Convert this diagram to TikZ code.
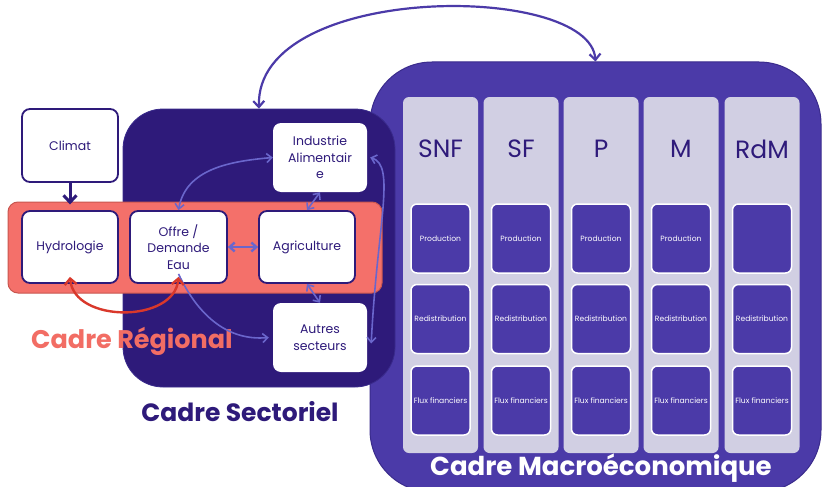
\documentclass[tikz,border=0pt]{standalone}
\usepackage{fontspec}
\setmainfont{Poppins}
\usetikzlibrary{arrows.meta}
\definecolor{secdark}{HTML}{2E1A7A}
\definecolor{macrobg}{HTML}{4B3AA8}
\definecolor{macroline}{HTML}{3A2B8C}
\definecolor{colbg}{HTML}{D1CFE3}
\definecolor{bandfill}{HTML}{F4706A}
\definecolor{bandline}{HTML}{C8564F}
\definecolor{linkblue}{HTML}{6A66CC}
\definecolor{redarrow}{HTML}{D9382B}
\definecolor{regtext}{HTML}{F26D64}
\tikzset{
  regbox/.style={fill=white, draw=secdark, line width=1.8pt, rounded corners=8pt,
    text=secdark, align=center, minimum width=96pt, minimum height=72pt,
    font=\fontsize{12.5}{16.5}\selectfont, inner sep=1pt},
  secbox/.style={fill=white, rounded corners=8pt, text=secdark, align=center,
    minimum width=94pt, minimum height=69pt, font=\fontsize{12.5}{16.5}\selectfont, inner sep=1pt},
  colbox/.style={fill=colbg, rounded corners=6pt, minimum width=75pt, minimum height=356pt, inner sep=0pt},
  cell/.style={fill=macrobg, draw=white, line width=1.5pt, rounded corners=6pt, text=white,
    minimum width=59pt, minimum height=69pt, font=\fontsize{7.6}{9}\selectfont, inner sep=0pt},
  coltitle/.style={text=secdark, font=\fontsize{25}{28}\selectfont, inner sep=0pt},
  barb/.style={line width=1.6pt, draw=linkblue, {Straight Barb[length=5pt,width=9pt]}-{Straight Barb[length=5pt,width=9pt]}},
  barbone/.style={line width=1.6pt, draw=linkblue, -{Straight Barb[length=5pt,width=9pt]}},
}
\begin{document}
\begin{tikzpicture}[x=1pt,y=-1pt]
\useasboundingbox (0,0) rectangle (822,487);
\clip (0,0) rectangle (822,487);
\fill[white] (0,0) rectangle (822,487);
% macro box
\node[fill=macrobg, draw=macroline, line width=1pt, rounded corners=62pt,
  minimum width=451pt, minimum height=430pt, inner sep=0pt] (macro) at (595.5,277) {};
% columns
\foreach \nm/\x/\t in {c1/440.5/SNF, c2/521/SF, c3/601/P, c4/681/M, c5/762/RdM}{
  \node[colbox] (\nm) at (\x,275) {};
  \node[coltitle] (\nm t) at (\x,149) {\t};
}
\foreach \nm/\x in {c1/440.5, c2/521, c3/601, c4/681}{
  \node[cell] (\nm p) at (\x,238.5) {Production};
}
\node[cell] (c5p) at (762,238.5) {};
\foreach \nm/\x in {c1/440.5, c2/521, c3/601, c4/681, c5/762}{
  \node[cell] (\nm r) at (\x,319) {Redistribution};
  \node[cell] (\nm f) at (\x,400.5) {Flux financiers};
}
\node[text=white, font=\fontsize{26}{30}\selectfont\bfseries, inner sep=0pt] (macrot) at (601,468) {Cadre Macroéconomique};
% sector box
\node[fill=secdark, draw=macroline, line width=0.8pt, rounded corners=40pt,
  minimum width=272pt, minimum height=278pt, inner sep=0pt] (sector) at (259,248) {};
% regional band
\node[fill=bandfill, draw=bandline, line width=1pt, rounded corners=10pt,
  minimum width=374pt, minimum height=91pt, inner sep=0pt] (band) at (195,247.5) {};
% nodes
\node[regbox, minimum height=73pt] (climat) at (70,145.5) {Climat};
\node[regbox] (hydro) at (70,247) {Hydrologie};
\node[regbox, minimum width=97pt] (offre) at (178.5,247) {Offre /\\Demande\\Eau};
\node[regbox] (agri) at (307,247) {Agriculture};
\node[secbox] (indus) at (320,157.5) {Industrie\\Alimentair\\e};
\node[secbox] (autres) at (320,337.5) {Autres\\secteurs};
% labels
\node[text=regtext, font=\fontsize{25.5}{30}\selectfont\bfseries, inner sep=0pt] (regt) at (132,341) {Cadre Régional};
\node[text=secdark, font=\fontsize{25}{30}\selectfont\bfseries, inner sep=0pt] (sect) at (240,412) {Cadre Sectoriel};
% arrows
\draw[line width=3pt, draw=secdark, -{Straight Barb[length=7pt,width=13pt]}]
  (climat.south) -- ([yshift=-3pt]climat.south |- band.north);
\draw[barb, line width=2.4pt] (offre.east) -- (agri.west);
\draw[barb] (offre.north) to[out=80, in=185] (indus.west);
\draw[barb] (agri.north) -- (indus.south);
\draw[barb] (agri.south) -- (autres.north);
\draw[barbone] ([yshift=10pt]offre.south) to[out=-65, in=185] ([xshift=-4pt]autres.west);
\draw[barb] ([xshift=3pt]indus.east) .. controls +(26,8) and +(6,-120) .. ([xshift=4pt,yshift=-6pt]autres.east);
\draw[line width=2.4pt, draw=redarrow, {Straight Barb[length=6pt,width=12pt]}-{Straight Barb[length=6pt,width=12pt]}]
  ([yshift=7pt]offre.south) to[out=-95, in=-85, looseness=1.1] ([yshift=7pt]hydro.south);
\draw[line width=2.2pt, draw=macrobg, {Straight Barb[length=6pt,width=11pt]}-{Straight Barb[length=6pt,width=11pt]}]
  (sector.north) .. controls (255,-18) and (590,-18) .. (macro.north);
\end{tikzpicture}
\end{document}
